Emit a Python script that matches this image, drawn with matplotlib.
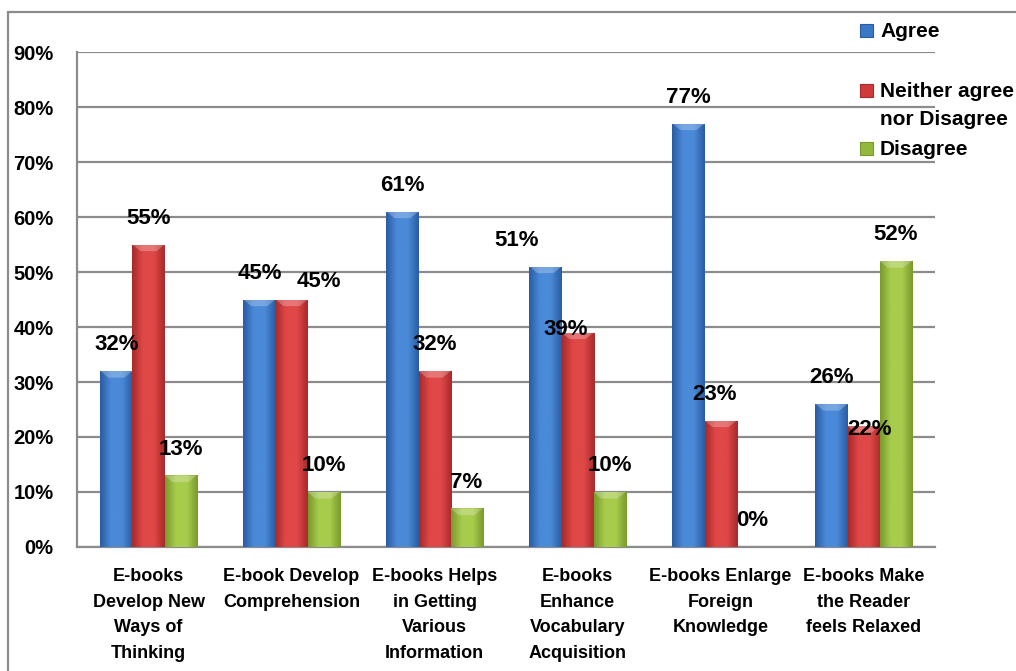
import matplotlib.pyplot as plt
from matplotlib.colors import LinearSegmentedColormap
from matplotlib.patches import Rectangle, Polygon
import numpy as np

plt.rcParams['font.family'] = ['Liberation Sans', 'DejaVu Sans']
plt.rcParams['font.weight'] = 'bold'

categories = ["E-books\nDevelop New\nWays of\nThinking",
              "E-book Develop\nComprehension",
              "E-books Helps\nin Getting\nVarious\nInformation",
              "E-books\nEnhance\nVocabulary\nAcquisition",
              "E-books Enlarge\nForeign\nKnowledge",
              "E-books Make\nthe Reader\nfeels Relaxed"]
series_names = ["Agree", "Neither agree\nnor Disagree", "Disagree"]
agree = [32, 45, 61, 51, 77, 26]
neither = [55, 45, 32, 39, 23, 22]
disagree = [13, 10, 7, 10, 0, 52]

# colour per series: (edge shade, centre shade)
shades = [("#2a5ca3", "#4a8ad8"), ("#a82a2a", "#e04848"), ("#7a9a2c", "#a8cc4c")]
mid_colors = ["#3b78c6", "#d03a3a", "#93b83c"]

# small manual nudges for overlapping labels (dx, dy in % units)
label_nudge = {(1, 1): (0.19, -1.5), (3, 0): (-0.2, 0), (3, 1): (-0.08, -4.2),
               (4, 1): (-0.04, 0), (5, 1): (0.04, -5.5)}

fig = plt.figure(figsize=(10.16, 6.71), dpi=100)
ax = fig.add_axes([0.0758, 0.1848, 0.8445, 0.7377])

x = np.arange(len(categories))
w = 0.224
values = [agree, neither, disagree]
for si, vals in enumerate(values):
    pos = x + (si - 1) * w
    bars = ax.bar(pos, np.array(vals) / 100, w, color=mid_colors[si], zorder=3,
                  linewidth=0)
    cmap = LinearSegmentedColormap.from_list("g", [shades[si][0], shades[si][1],
                                                   shades[si][1], shades[si][0]])
    grad = np.linspace(0, 1, 64).reshape(1, -1)
    for b in bars:
        h = b.get_height()
        if h <= 0:
            continue
        x0 = b.get_x()
        im = ax.imshow(grad, extent=[x0, x0 + w, 0, h], aspect='auto', cmap=cmap,
                       zorder=3.5, interpolation='bicubic')
        im.set_clip_path(b)
        # bevel at the top
        bv = 0.012
        ax.add_patch(Polygon([[x0, h], [x0 + w, h], [x0 + w * 0.75, h - bv],
                              [x0 + w * 0.25, h - bv]], closed=True,
                             facecolor="white", alpha=0.25, lw=0, zorder=4))
    for ci, v in enumerate(vals):
        dx, dy = label_nudge.get((ci, si), (0, 0))
        ax.text(pos[ci] + dx, (v + 4.8 + dy) / 100, f"{v}%", ha='center', va='center',
                fontsize=16, fontweight='bold', zorder=6)

ax.set_xlim(-0.5, len(categories) - 0.5)
ax.set_ylim(0, 0.9)
ax.set_yticks(np.arange(0, 0.91, 0.1))
ax.set_yticklabels([f"{int(round(t * 100))}%" for t in np.arange(0, 0.91, 0.1)],
                   fontsize=14.5, fontweight='bold')
ax.set_xticks(x)
ax.set_xticklabels(categories, fontsize=13, fontweight='bold', linespacing=1.67,
                   va='top')
ax.tick_params(axis='both', length=0)
ax.tick_params(axis='y', pad=17)
ax.tick_params(axis='x', pad=15)
ax.yaxis.grid(True, color="#8c8c8c", linewidth=1.6, zorder=0)
ax.set_axisbelow(True)
for s in ['top', 'right']:
    ax.spines[s].set_visible(False)
for s in ['left', 'bottom']:
    ax.spines[s].set_color("#8c8c8c")
    ax.spines[s].set_linewidth(1.6)

# legend, placed like the original (no frame, over the grid)
W, H = 1016, 671
leg_y = [30, 90, 148]
for si, name in enumerate(series_names):
    yc = leg_y[si]
    fig.add_artist(Rectangle((860 / W, 1 - (yc + 7) / H), 13 / W, 13 / H,
                             transform=fig.transFigure, facecolor=mid_colors[si],
                             edgecolor=shades[si][0], linewidth=0.8))
    fig.text(880 / W, 1 - (yc - 8) / H, name, ha='left', va='top',
             fontsize=15, fontweight='bold', linespacing=1.6)

# outer chart border
fig.add_artist(Rectangle((8 / W, -0.1), 1.2, 1 - 12 / H + 0.1,
                         transform=fig.transFigure, fill=False,
                         edgecolor="#8c8c8c", linewidth=1.6))

fig.savefig("out.png", dpi=100)
